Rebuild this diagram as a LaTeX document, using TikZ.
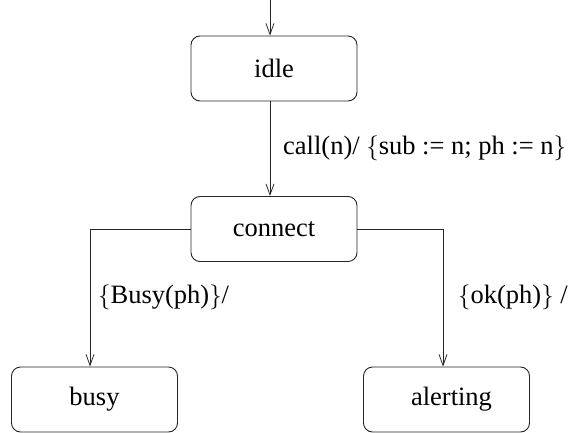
\documentclass[tikz,border=0pt]{standalone}
\usepackage{fontspec}
\setmainfont{Liberation Serif}
\usetikzlibrary{arrows.meta}
\begin{document}
\begin{tikzpicture}[x=1pt,y=-1pt,
  state/.style={draw=black!85,line width=0.9pt,rounded corners=9pt,minimum width=166pt,minimum height=65pt,inner sep=0pt,font=\fontsize{26.5}{31}\selectfont},
  lbl/.style={anchor=west,inner sep=0pt,font=\fontsize{26.5}{31}\selectfont},
  conn/.style={draw=black!85,line width=0.9pt,-{Straight Barb[length=11pt,width=8pt,line width=0.8pt]}}]
\useasboundingbox (0,0) rectangle (570,433);
\node[state] (idle) at (274,68.5) {idle};
\node[state] (connect) at (274,229) {connect};
\node[state] (busy) at (94.5,399.5) {busy};
\node[state] (alerting) at (446.5,399.5) {\hspace*{10pt}alerting};
\coordinate (start) at (270,0);
\draw[conn] (start) -- (start |- idle.north);
\draw[conn] ([xshift=-4pt]idle.south) -- ([xshift=-4pt]connect.north);
\draw[conn] (connect.west) -| ([xshift=-4.5pt]busy.north);
\draw[conn] (connect.east) -| ([xshift=-3.5pt]alerting.north);
\node[lbl] (l1) at (283,148) {call(n)/ $\{$sub := n; ph := n$\}$};
\node[lbl] (l2) at (98,297) {$\{$Busy(ph)$\}$/};
\node[lbl] (l3) at (458,297) {$\{$ok(ph)$\}$ /};
\end{tikzpicture}
\end{document}
